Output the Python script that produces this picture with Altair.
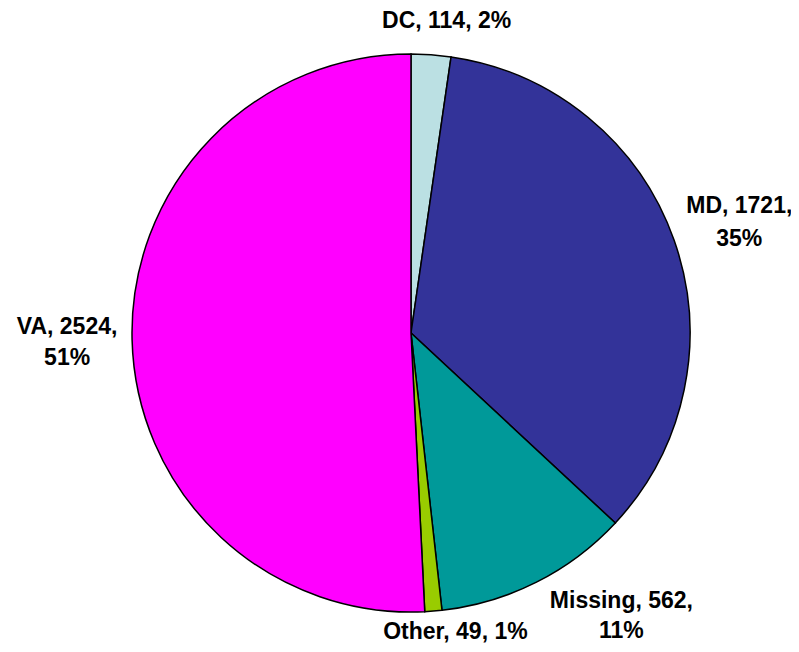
import altair as alt
import pandas as pd

categories = ["DC", "MD", "Missing", "Other", "VA"]
values = [114, 1721, 562, 49, 2524]
percents = ["2%", "35%", "11%", "1%", "51%"]
two_line = [False, True, True, False, True]
colors = ["#BBE0E3", "#333399", "#009999", "#99CC00", "#FF00FF"]

labels = [
    f"{c}, {v}," + ("\n" if br else " ") + p
    for c, v, p, br in zip(categories, values, percents, two_line)
]

df = pd.DataFrame({
    "cat": categories,
    "value": values,
    "label": labels,
    "idx": list(range(len(categories))),
})

base = alt.Chart(df).encode(
    theta=alt.Theta("value:Q", stack=True),
    order=alt.Order("idx:Q"),
)

pie = base.mark_arc(outerRadius=279, stroke="black", strokeWidth=1.5).encode(
    color=alt.Color("cat:N", scale=alt.Scale(domain=categories, range=colors), legend=None)
)

# label placement (radius, dx, dy, lineHeight) per category
placement = {
    "DC": (314, 13, 1, 32),
    "MD": (347, 1, -12, 33),
    "Missing": (330, 62, -27, 30),
    "Other": (305, 20, -5, 32),
    "VA": (344, 0, -14, 31),
}

layers = [pie]
for c in categories:
    r, dx, dy, lh = placement[c]
    layers.append(
        base.transform_calculate(lab=f"datum.cat == '{c}' ? datum.label : ''")
        .mark_text(
            radius=r, dx=dx, dy=dy, fontSize=23, fontWeight="bold",
            font="Liberation Sans", lineBreak="\n", lineHeight=lh,
            align="center", baseline="middle", color="black",
        )
        .encode(text="lab:N")
    )

chart = alt.layer(*layers).properties(
    width=700,
    height=600,
    autosize=alt.AutoSizeParams(type="none"),
    padding={"left": 53, "top": 25, "right": 30, "bottom": 11},
).configure_view(stroke=None)

chart.save("out.html", embed_options={"renderer": "svg", "actions": False})
